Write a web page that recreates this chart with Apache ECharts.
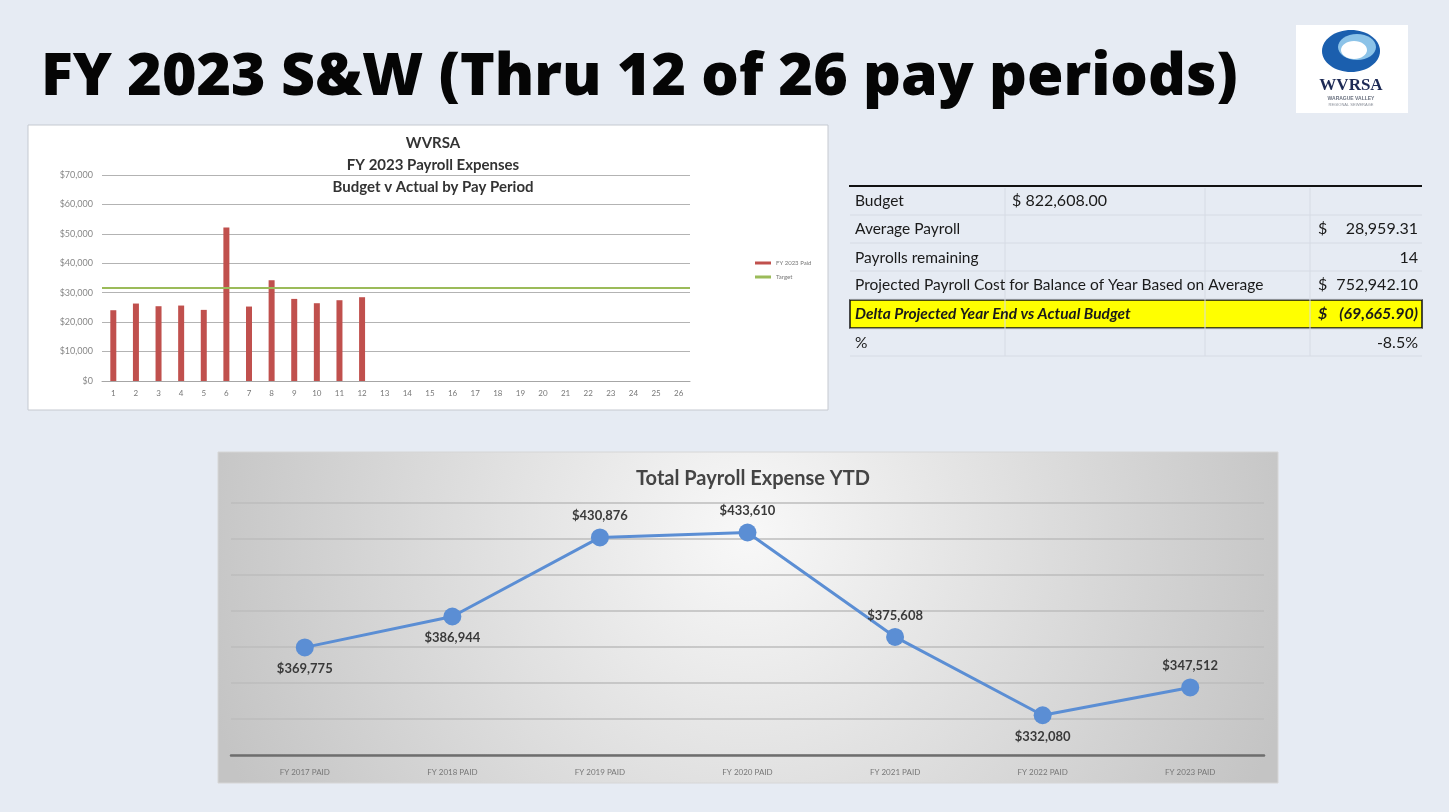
<!DOCTYPE html>
<html>
<head>
<meta charset="utf-8">
<script src="https://cdn.jsdelivr.net/npm/echarts@6/dist/echarts.min.js"></script>
<style>
html, body { margin: 0; padding: 0; background: #e6ebf3; }
#main { width: 1449px; height: 812px; }
</style>
</head>
<body>
<div id="main"></div>
<script>
// pay period chart
var periods = ['1', '2', '3', '4', '5', '6', '7', '8', '9', '10', '11', '12', '13',
	'14', '15', '16', '17', '18', '19', '20', '21', '22', '23', '24', '25', '26'];
var paid2023 = [24050, 26320, 25410, 25640, 24170, 52130, 25300, 34240, 27900, 26430, 27450, 28470];
var target = 31638.77;

// ytd chart
var years = ['FY 2017 PAID', 'FY 2018 PAID', 'FY 2019 PAID', 'FY 2020 PAID', 'FY 2021 PAID', 'FY 2022 PAID', 'FY 2023 PAID'];
var ytdTotals = [369775, 386944, 430876, 433610, 375608, 332080, 347512];
var ytdLabelSide = ['bottom', 'bottom', 'top', 'top', 'top', 'bottom', 'top'];

// summary table
var tableLabels = ['Budget', 'Average Payroll', 'Payrolls remaining',
	'Projected Payroll Cost for Balance of Year Based on Average',
	'Delta Projected Year End vs Actual Budget', '%'];
var tableValues = ['', '28,959.31', '14', '752,942.10', '(69,665.90)', '-8.5%'];
var tableDollar = [false, true, false, true, true, false];
var budgetText = '$ 822,608.00';

function money(v) {
	return '$' + v.toLocaleString('en-US');
}

var chart = echarts.init(document.getElementById('main'));

var rowY = [201, 229, 258, 285, 314, 343];
var tableEls = [
	{ type: 'rect', shape: { x: 849, y: 185, width: 573, height: 2 }, style: { fill: '#111' } },
	{ type: 'rect', shape: { x: 850, y: 300, width: 572, height: 28 }, style: { fill: '#ffff00', stroke: '#111', lineWidth: 1.5 } }
];
[1005, 1205, 1310].forEach(function (x) {
	tableEls.push({ type: 'line', shape: { x1: x, y1: 188, x2: x, y2: 356 }, style: { stroke: '#d6dbe4', lineWidth: 1 } });
});
[215, 243, 271, 299, 329, 356].forEach(function (y) {
	tableEls.push({ type: 'line', shape: { x1: 850, y1: y, x2: 1422, y2: y }, style: { stroke: '#d6dbe4', lineWidth: 1 } });
});
for (var i = 0; i < tableLabels.length; i++) {
	var hot = i === 4;
	var font = (hot ? 'italic bold 16px ' : '16px ') + 'Lato, sans-serif';
	tableEls.push({
		type: 'text', x: 855, y: rowY[i], scaleX: 0.97,
		style: { text: tableLabels[i], font: font, fill: '#1a1a1a', verticalAlign: 'middle' }
	});
	if (tableValues[i]) {
		tableEls.push({
			type: 'text', x: 1418, y: rowY[i],
			style: { text: tableValues[i], font: font, fill: '#1a1a1a', align: 'right', verticalAlign: 'middle' }
		});
	}
	if (tableDollar[i]) {
		tableEls.push({
			type: 'text', x: 1318, y: rowY[i],
			style: { text: '$', font: font, fill: '#1a1a1a', verticalAlign: 'middle' }
		});
	}
}
tableEls.push({
	type: 'text', x: 1012, y: rowY[0],
	style: { text: budgetText, font: '16px Lato, sans-serif', fill: '#1a1a1a', verticalAlign: 'middle' }
});

var logoEls = [
	{ type: 'rect', shape: { x: 1296, y: 25, width: 112, height: 88 }, style: { fill: '#fff' } },
	{ type: 'ellipse', shape: { cx: 1351, cy: 51, rx: 29, ry: 21 }, style: { fill: '#1b5fae' } },
	{ type: 'ellipse', shape: { cx: 1357, cy: 47, rx: 19, ry: 13 }, style: { fill: '#8cc3e8' } },
	{ type: 'ellipse', shape: { cx: 1354, cy: 50, rx: 13, ry: 9 }, style: { fill: '#fff' } },
	{ type: 'text', x: 1351, y: 86, style: { text: 'WVRSA', font: 'bold 17px "Liberation Serif", serif', fill: '#1d2a55', align: 'center', verticalAlign: 'middle' } },
	{ type: 'text', x: 1351, y: 99, style: { text: 'WARAGUE VALLEY', font: 'bold 5px "Liberation Sans", sans-serif', fill: '#6b7280', align: 'center', verticalAlign: 'middle' } },
	{ type: 'text', x: 1351, y: 105, style: { text: 'REGIONAL SEWERAGE', font: '4px "Liberation Sans", sans-serif', fill: '#8a8f99', align: 'center', verticalAlign: 'middle' } }
];

var panels = [
	{ type: 'rect', z: -10, shape: { x: 28, y: 125, width: 800, height: 285 }, style: { fill: '#fff', stroke: '#c5c9d0', lineWidth: 1 } },
	{
		type: 'rect', z: -10, shape: { x: 218, y: 452, width: 1060, height: 331 },
		style: {
			fill: new echarts.graphic.RadialGradient(0.5, 0.25, 1.7, [
				{ offset: 0, color: '#f8f8f8' },
				{ offset: 1, color: '#c4c4c4' }
			]),
			stroke: '#d6d6d6', lineWidth: 1
		}
	}
];

var option = {
	animation: false,
	textStyle: { fontFamily: 'Lato, sans-serif' },
	title: [{
		text: 'FY 2023 S&W (Thru 12 of 26 pay periods)',
		left: 36, top: 44,
		textStyle: { fontFamily: '"Open Sans", sans-serif', fontWeight: 800, fontSize: 59, color: '#050505' }
	}, {
		text: 'WVRSA\nFY 2023 Payroll Expenses\nBudget v Actual by Pay Period',
		left: 428, top: 127, textAlign: 'center',
		textStyle: { fontFamily: 'Lato, sans-serif', fontWeight: 'bold', fontSize: 15, lineHeight: 22, color: '#333' }
	}, {
		text: 'Total Payroll Expense YTD',
		left: 748, top: 464, textAlign: 'center',
		textStyle: { fontFamily: 'Lato, sans-serif', fontWeight: 'bold', fontSize: 20, color: '#444' }
	}],
	legend: {
		left: 750, top: 255, orient: 'vertical', itemGap: 8,
		itemWidth: 16, itemHeight: 3,
		textStyle: { fontSize: 6, color: '#777' },
		data: [
			{ name: 'FY 2023 Paid', icon: 'rect' },
			{ name: 'Target', icon: 'rect' }
		]
	},
	grid: [
		{ left: 102, right: 759, top: 175, bottom: 431 },
		{ left: 231, right: 185, top: 503, bottom: 57 }
	],
	xAxis: [{
		gridIndex: 0, type: 'category', data: periods,
		axisLine: { lineStyle: { color: '#a6a6a6' } },
		axisTick: { lineStyle: { color: '#a6a6a6' }, length: 3 },
		axisLabel: { fontSize: 8, color: '#777', margin: 8 }
	}, {
		gridIndex: 1, type: 'category', data: years,
		axisLine: { lineStyle: { color: '#6e6e6e', width: 2.5 } },
		axisTick: { show: false },
		axisLabel: { fontSize: 8, color: '#777', margin: 13 }
	}],
	yAxis: [{
		gridIndex: 0, type: 'value', min: 0, max: 70000, interval: 10000,
		axisLine: { show: false },
		axisTick: { show: false },
		axisLabel: { fontSize: 9, color: '#888', margin: 9, formatter: money },
		splitLine: { lineStyle: { color: '#b3b3b3' } }
	}, {
		gridIndex: 1, type: 'value', min: 310000, max: 450000, interval: 20000,
		axisLine: { show: false },
		axisTick: { show: false },
		axisLabel: { show: false },
		splitLine: { lineStyle: { color: '#bdbdbd', width: 1.5 } }
	}],
	series: [{
		name: 'FY 2023 Paid', type: 'bar',
		xAxisIndex: 0, yAxisIndex: 0,
		data: paid2023, barWidth: 6,
		itemStyle: { color: '#c0504d' }
	}, {
		name: 'Target', type: 'line',
		xAxisIndex: 0, yAxisIndex: 0,
		data: [],
		itemStyle: { color: '#9bbb59' },
		markLine: {
			silent: true, symbol: 'none',
			label: { show: false },
			lineStyle: { color: '#9bbb59', width: 2, type: 'solid' },
			data: [{ yAxis: target }]
		}
	}, {
		name: 'YTD', type: 'line',
		xAxisIndex: 1, yAxisIndex: 1,
		data: ytdTotals.map(function (v, k) {
			return { value: v, label: { position: ytdLabelSide[k] } };
		}),
		symbol: 'circle', symbolSize: 18,
		lineStyle: { color: '#5b8ed4', width: 3 },
		itemStyle: { color: '#5b8ed4' },
		label: {
			show: true, distance: 6,
			fontFamily: 'Lato, sans-serif',
			fontWeight: 'bold', fontSize: 13, color: '#3a3a3a',
			formatter: function (p) { return money(p.value); }
		}
	}],
	graphic: { elements: panels.concat(tableEls, logoEls) }
};

chart.setOption(option);
</script>
</body>
</html>
